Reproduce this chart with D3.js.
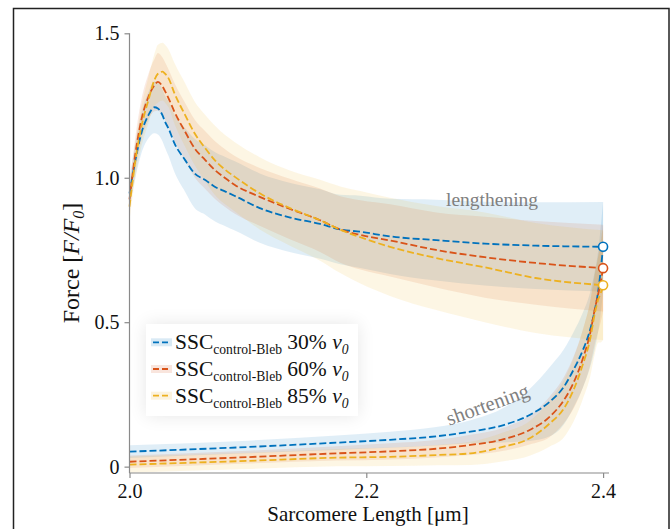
<!DOCTYPE html>
<html>
<head>
<meta charset="utf-8">
<script src="https://cdn.jsdelivr.net/npm/d3@7"></script>
<style>
  html, body { margin: 0; padding: 0; background: #fff; }
  svg { display: block; }
  text { font-family: "Liberation Serif", "Times New Roman", serif; }
</style>
</head>
<body>
<svg id="chart" width="672" height="529"></svg>
<script>
// Sarcomere length (µm) sampled along the lengthening ramp
const slLength = [2.000, 2.005, 2.010, 2.016, 2.021, 2.024, 2.028, 2.030, 2.033, 2.038, 2.047, 2.055, 2.064,
                  2.072, 2.081, 2.089, 2.110, 2.136, 2.161, 2.178, 2.195, 2.220, 2.259, 2.300, 2.343, 2.400];
// Mean normalised force F/F0 during lengthening
const f30Length = [0.946, 1.061, 1.154, 1.217, 1.244, 1.240, 1.215, 1.194, 1.170, 1.119, 1.061, 1.015, 0.992,
                   0.969, 0.952, 0.937, 0.895, 0.862, 0.840, 0.821, 0.813, 0.797, 0.784, 0.772, 0.765, 0.761];
const f60Length = [0.925, 1.084, 1.200, 1.280, 1.320, 1.332, 1.315, 1.300, 1.275, 1.228, 1.159, 1.102, 1.061,
                   1.027, 0.998, 0.975, 0.934, 0.891, 0.853, 0.821, 0.802, 0.783, 0.750, 0.725, 0.705, 0.687];
const f85Length = [0.900, 1.061, 1.176, 1.269, 1.338, 1.360, 1.367, 1.360, 1.344, 1.292, 1.217, 1.154, 1.102,
                   1.061, 1.027, 1.003, 0.946, 0.894, 0.853, 0.820, 0.794, 0.761, 0.722, 0.690, 0.653, 0.628];
// Standard deviation of F/F0 during lengthening
const sd30Length = [0.05, 0.06, 0.07, 0.08, 0.09, 0.09, 0.09, 0.09, 0.095, 0.10, 0.11, 0.12, 0.12,
                    0.12, 0.12, 0.12, 0.12, 0.12, 0.12, 0.12, 0.125, 0.13, 0.14, 0.145, 0.15, 0.155];
const sd60Length = [0.05, 0.06, 0.07, 0.08, 0.09, 0.10, 0.10, 0.10, 0.10, 0.10, 0.10, 0.10, 0.10,
                    0.10, 0.10, 0.10, 0.10, 0.105, 0.11, 0.115, 0.12, 0.125, 0.13, 0.14, 0.145, 0.15];
const sd85Length = [0.05, 0.06, 0.07, 0.08, 0.09, 0.10, 0.10, 0.10, 0.10, 0.105, 0.11, 0.11, 0.115,
                    0.12, 0.12, 0.12, 0.125, 0.13, 0.14, 0.15, 0.16, 0.17, 0.18, 0.19, 0.19, 0.19];

// Sarcomere length (µm) sampled along the shortening ramp (listed in ascending order)
const slShort = [2.000, 2.100, 2.175, 2.220, 2.259, 2.288, 2.316, 2.338, 2.355, 2.367, 2.375, 2.383, 2.389,
                 2.393, 2.396, 2.398, 2.400];
const f30Short = [0.052, 0.068, 0.083, 0.093, 0.105, 0.121, 0.144, 0.179, 0.225, 0.277, 0.335, 0.404, 0.473,
                  0.542, 0.611, 0.680, 0.761];
const f60Short = [0.017, 0.033, 0.046, 0.053, 0.062, 0.075, 0.095, 0.127, 0.173, 0.231, 0.290, 0.375, 0.460,
                  0.545, 0.600, 0.640, 0.687];
const f85Short = [0.007, 0.020, 0.031, 0.034, 0.040, 0.046, 0.069, 0.098, 0.150, 0.202, 0.265, 0.355, 0.440,
                  0.530, 0.580, 0.600, 0.628];
const sd30Short = [0.022, 0.022, 0.025, 0.028, 0.032, 0.04, 0.06, 0.09, 0.12, 0.13, 0.13, 0.13, 0.13,
                   0.135, 0.14, 0.15, 0.155];
const sd60Short = [0.022, 0.022, 0.025, 0.028, 0.03, 0.035, 0.04, 0.05, 0.07, 0.08, 0.09, 0.10, 0.11,
                   0.12, 0.13, 0.14, 0.15];
const sd85Short = [0.028, 0.028, 0.03, 0.032, 0.035, 0.04, 0.05, 0.06, 0.08, 0.10, 0.11, 0.12, 0.13,
                   0.14, 0.15, 0.17, 0.19];

const seriesNames = ["30%", "60%", "85%"];
const seriesColors = ["#0072BD", "#D95319", "#EDB120"];
const xTicks = [2.0, 2.2, 2.4];
const xTickLabels = ["2.0", "2.2", "2.4"];
const yTicks = [0, 0.5, 1.0, 1.5];
const yTickLabels = ["0", "0.5", "1.0", "1.5"];

const series = [
  { name: seriesNames[0], color: seriesColors[0], fL: f30Length, sdL: sd30Length, fS: f30Short, sdS: sd30Short },
  { name: seriesNames[1], color: seriesColors[1], fL: f60Length, sdL: sd60Length, fS: f60Short, sdS: sd60Short },
  { name: seriesNames[2], color: seriesColors[2], fL: f85Length, sdL: sd85Length, fS: f85Short, sdS: sd85Short }
];

const serif = "'Liberation Serif', 'Times New Roman', serif";
const svg = d3.select("#chart");

// outer figure frame
svg.append("rect")
  .attr("x", 13.5).attr("y", 8.5)
  .attr("width", 655.5).attr("height", 540)
  .attr("fill", "none").attr("stroke", "#222").attr("stroke-width", 1.5);

const x = d3.scaleLinear().domain([2.0, 2.405]).range([129.5, 609]);
const y = d3.scaleLinear().domain([-0.022, 1.5]).range([473, 33.3]);

const defs = svg.append("defs");
const shadow = defs.append("filter").attr("id", "legendShadow")
  .attr("x", "-30%").attr("y", "-40%").attr("width", "160%").attr("height", "180%");
shadow.append("feGaussianBlur").attr("in", "SourceAlpha").attr("stdDeviation", 9).attr("result", "blur");
shadow.append("feComponentTransfer").attr("in", "blur").attr("result", "soft")
  .append("feFuncA").attr("type", "linear").attr("slope", 0.10);
const merge = shadow.append("feMerge");
merge.append("feMergeNode").attr("in", "soft");
merge.append("feMergeNode").attr("in", "SourceGraphic");

const plot = svg.append("g");

// shaded ±SD bands
const band = (sl, f, sd) => d3.area()
  .x((d, i) => x(sl[i]))
  .y0((d, i) => y(f[i] - sd[i]))
  .y1((d, i) => y(f[i] + sd[i]))
  .curve(d3.curveMonotoneX)(f);

series.forEach(s => {
  plot.append("path").attr("d", band(slLength, s.fL, s.sdL))
    .attr("fill", s.color).attr("fill-opacity", 0.12);
  plot.append("path").attr("d", band(slShort, s.fS, s.sdS))
    .attr("fill", s.color).attr("fill-opacity", 0.12);
});

// mean force traces
const line = (sl, f) => d3.line()
  .x((d, i) => x(sl[i]))
  .y(d => y(d))
  .curve(d3.curveMonotoneX)(f);

series.forEach(s => {
  [line(slLength, s.fL), line(slShort, s.fS)].forEach(d => {
    plot.append("path").attr("d", d)
      .attr("fill", "none").attr("stroke", s.color)
      .attr("stroke-width", 1.8).attr("stroke-dasharray", "7,3");
  });
});

// open markers at the turning point (end of lengthening)
series.forEach(s => {
  plot.append("circle")
    .attr("cx", x(slLength[slLength.length - 1]))
    .attr("cy", y(s.fL[s.fL.length - 1]))
    .attr("r", 4.5)
    .attr("fill", "#fff").attr("stroke", s.color).attr("stroke-width", 1.6);
});

// axes
const axisColor = "#8a8a8a";
const xAxis = svg.append("g").attr("transform", "translate(0,473)")
  .call(d3.axisBottom(x).tickValues(xTicks).tickSize(5).tickPadding(6)
    .tickFormat((d, i) => xTickLabels[i]));
const yAxis = svg.append("g").attr("transform", "translate(129.5,0)")
  .call(d3.axisLeft(y).tickValues(yTicks).tickSize(5).tickPadding(5)
    .tickFormat((d, i) => yTickLabels[i]));
[xAxis, yAxis].forEach(g => {
  g.attr("font-family", serif).attr("font-size", 20);
  g.select(".domain").attr("stroke", axisColor).attr("stroke-width", 1.2);
  g.selectAll(".tick line").attr("stroke", axisColor).attr("stroke-width", 1.2);
  g.selectAll(".tick text").attr("fill", "#111")
    .style("font-family", serif).style("font-size", "20px");
});
// plain axis lines without end caps
xAxis.select(".domain").attr("d", `M${x(2.0)},0H${x(2.405)}`);
yAxis.select(".domain").attr("d", `M0,${y(1.5)}V473`);

// axis titles
svg.append("text")
  .attr("x", 368).attr("y", 521)
  .attr("text-anchor", "middle")
  .style("font-size", "21px").attr("fill", "#111")
  .text("Sarcomere Length [μm]");

const yTitle = svg.append("text")
  .attr("transform", "translate(79,263) rotate(-90)")
  .attr("text-anchor", "middle")
  .style("font-size", "24px").attr("fill", "#111");
yTitle.append("tspan").text("Force [");
yTitle.append("tspan").style("font-style", "italic").text("F/F");
yTitle.append("tspan").style("font-style", "italic").style("font-size", "16px").attr("dy", 5).text("0");
yTitle.append("tspan").attr("dy", -5).text("]");

// phase annotations
svg.append("text")
  .attr("x", 446).attr("y", 206)
  .style("font-size", "19.5px").attr("fill", "#808080")
  .text("lengthening");
svg.append("text")
  .attr("transform", "translate(490,411) rotate(-20)")
  .attr("text-anchor", "middle")
  .style("font-size", "20.5px").attr("fill", "#808080")
  .text("shortening");

// legend
const legend = svg.append("g");
legend.append("rect")
  .attr("x", 146).attr("y", 324).attr("width", 212).attr("height", 92)
  .attr("fill", "#fff").attr("filter", "url(#legendShadow)");
series.forEach((s, i) => {
  const base = 349.3 + i * 26.7;
  legend.append("rect")
    .attr("x", 151).attr("y", base - 11).attr("width", 21).attr("height", 8)
    .attr("fill", s.color).attr("fill-opacity", 0.15);
  legend.append("line")
    .attr("x1", 153).attr("x2", 171).attr("y1", base - 7).attr("y2", base - 7)
    .attr("stroke", s.color).attr("stroke-width", 1.8).attr("stroke-dasharray", "6,3");
  const t = legend.append("text")
    .attr("x", 175).attr("y", base)
    .style("font-size", "21.5px").attr("fill", "#111");
  t.append("tspan").text("SSC");
  t.append("tspan").style("font-size", "13.6px").attr("dy", 5).text("control-Bleb");
  t.append("tspan").attr("dy", -5).text(" " + s.name + " ");
  t.append("tspan").style("font-style", "italic").text("v");
  t.append("tspan").style("font-style", "italic").style("font-size", "13.6px").attr("dy", 5).text("0");
});
</script>
</body>
</html>
